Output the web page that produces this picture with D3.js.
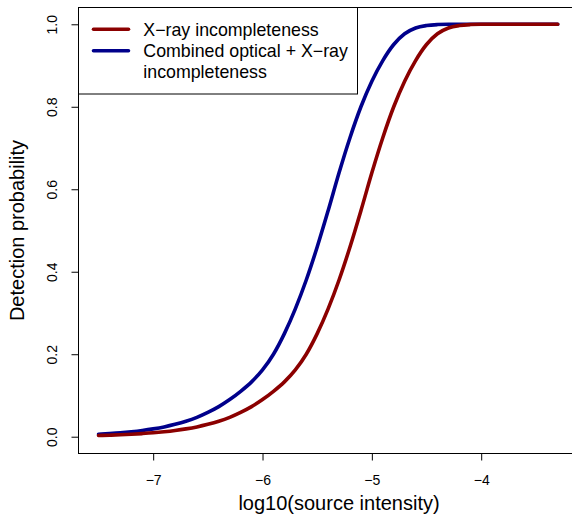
<!DOCTYPE html>
<html>
<head>
<meta charset="utf-8">
<script src="https://cdn.jsdelivr.net/npm/d3@7"></script>
<style>
  body { margin: 0; background: #fff; }
  svg text { font-family: "Liberation Sans", Arial, sans-serif; fill: #000; }
</style>
</head>
<body>
<div id="chart"></div>
<script>
// log10 source intensity grid
var logIntensity = [-7.5, -7.4, -7.3, -7.2, -7.1, -7.0, -6.9, -6.8, -6.7, -6.6, -6.5, -6.4, -6.3, -6.2, -6.1, -6.0,
  -5.9, -5.8, -5.7, -5.6, -5.5, -5.4, -5.3, -5.2, -5.1, -5.0, -4.9, -4.8, -4.7, -4.6, -4.5, -4.4, -4.3, -4.2, -4.1, -4.0,
  -3.8, -3.5, -3.3];

// detection probability
var xrayProb = [0.0030, 0.0037, 0.0047, 0.0060, 0.0076, 0.0095, 0.0120, 0.0151, 0.0190, 0.0238, 0.030, 0.0375, 0.047, 0.059, 0.073, 0.090,
  0.110, 0.133, 0.162, 0.200, 0.250, 0.310, 0.380, 0.460, 0.548, 0.640, 0.725, 0.800, 0.862, 0.912, 0.951, 0.977, 0.991, 0.997, 0.9993, 1.0,
  1.0, 1.0, 1.0];
var combinedProb = [0.006, 0.0076, 0.0095, 0.012, 0.0151, 0.019, 0.0238, 0.030, 0.0375, 0.047, 0.059, 0.073, 0.090, 0.110, 0.133, 0.162,
  0.200, 0.250, 0.310, 0.380, 0.460, 0.548, 0.640, 0.725, 0.800, 0.862, 0.912, 0.951, 0.977, 0.991, 0.997, 0.9993, 1.0, 1.0, 1.0, 1.0,
  1.0, 1.0, 1.0];

var xTicks = [-7, -6, -5, -4];
var yTicks = [0, 0.2, 0.4, 0.6, 0.8, 1.0];
var legendLabels = [["X\u2212ray incompleteness"], ["Combined optical + X\u2212ray", "incompleteness"]];
var seriesColors = ["#8b0000", "#00008b"];

var svgWidth = 572;
var svgHeight = 520;

// plot region (right side runs past the window, like the original)
var plot = { left: 78.5, top: 7.5, right: 599.5, bottom: 453.5 };

var svg = d3.select("#chart")
  .append("svg")
  .attr("width", svgWidth)
  .attr("height", svgHeight);

var xScale = d3.scaleLinear()
  .domain([-7.683, -2.918])
  .range([plot.left, plot.right]);
var yScale = d3.scaleLinear()
  .domain([-0.0407, 1.0407])
  .range([plot.bottom, plot.top]);

var minus = function (v) { return d3.format("d")(v).replace("-", "\u2212"); };

// x axis
var xAxis = svg.append("g")
  .attr("transform", `translate(0, ${plot.bottom})`)
  .call(d3.axisBottom(xScale).tickValues(xTicks).tickSize(7).tickSizeOuter(0).tickPadding(0).tickFormat(minus));
xAxis.select(".domain").remove();
xAxis.selectAll("line").attr("stroke", "#000");
xAxis.selectAll("text")
  .attr("y", 31.5)
  .attr("dy", null)
  .attr("font-size", "14px");

// y axis, labels rotated like R's default
var yAxis = svg.append("g")
  .attr("transform", `translate(${plot.left}, 0)`)
  .call(d3.axisLeft(yScale).tickValues(yTicks).tickSize(7).tickSizeOuter(0).tickFormat(d3.format(".1f")));
yAxis.select(".domain").remove();
yAxis.selectAll("line").attr("stroke", "#000");
yAxis.selectAll("text")
  .attr("x", null)
  .attr("dy", null)
  .attr("text-anchor", "middle")
  .attr("font-size", "14px")
  .attr("transform", "translate(-22, 0) rotate(-90)");

// box
svg.append("rect")
  .attr("x", plot.left)
  .attr("y", plot.top)
  .attr("width", plot.right - plot.left)
  .attr("height", plot.bottom - plot.top)
  .attr("fill", "none")
  .attr("stroke", "#000")
  .attr("stroke-width", 1);

// curves
var line = d3.line()
  .x(function (d) { return xScale(d[0]); })
  .y(function (d) { return yScale(d[1]); })
  .curve(d3.curveMonotoneX);

[[combinedProb, seriesColors[1]], [xrayProb, seriesColors[0]]].forEach(function (s) {
  svg.append("path")
    .datum(d3.zip(logIntensity, s[0]))
    .attr("fill", "none")
    .attr("stroke", s[1])
    .attr("stroke-width", 3.6)
    .attr("stroke-linecap", "round")
    .attr("stroke-linejoin", "round")
    .attr("d", line);
});

// legend
var legend = svg.append("g");
legend.append("rect")
  .attr("x", plot.left)
  .attr("y", plot.top)
  .attr("width", 279)
  .attr("height", 86.5)
  .attr("fill", "#fff")
  .attr("stroke", "#000")
  .attr("stroke-width", 1);

var rowY = [29.3, 50.7];
legendLabels.forEach(function (lines, i) {
  legend.append("line")
    .attr("x1", 93.5)
    .attr("x2", 128.5)
    .attr("y1", rowY[i])
    .attr("y2", rowY[i])
    .attr("stroke", seriesColors[i])
    .attr("stroke-width", 3.6)
    .attr("stroke-linecap", "round");
  lines.forEach(function (t, j) {
    legend.append("text")
      .attr("x", 143.3)
      .attr("y", rowY[i] + j * 21.4)
      .attr("dy", "0.35em")
      .attr("font-size", "17.8px")
      .text(t);
  });
});

// axis titles
svg.append("text")
  .attr("x", (plot.left + plot.right) / 2)
  .attr("y", 510)
  .attr("text-anchor", "middle")
  .attr("font-size", "20px")
  .text("log10(source intensity)");

svg.append("text")
  .attr("transform", `translate(24, ${(plot.top + plot.bottom) / 2}) rotate(-90)`)
  .attr("text-anchor", "middle")
  .attr("font-size", "20px")
  .text("Detection probability");
</script>
</body>
</html>
